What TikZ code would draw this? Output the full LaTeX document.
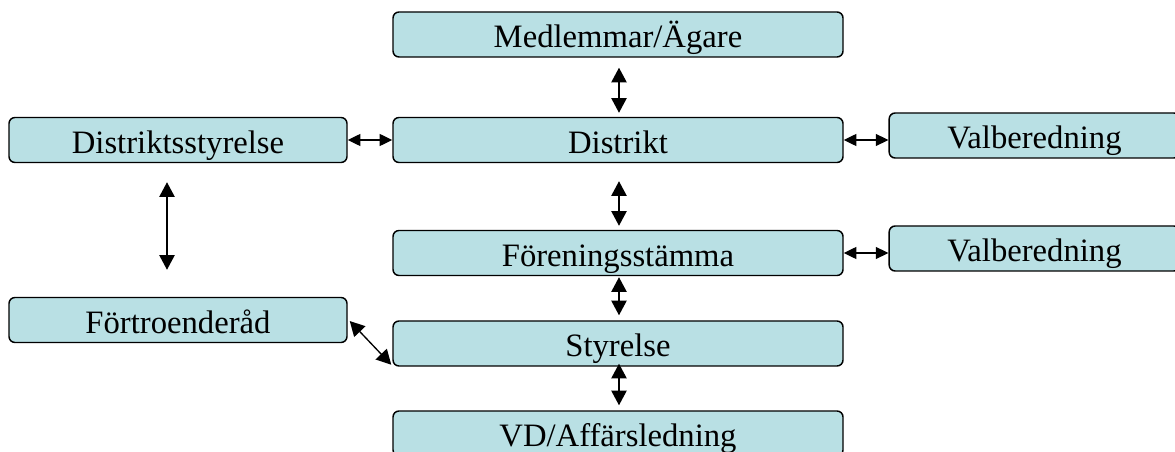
\documentclass[tikz,border=0pt]{standalone}
\usepackage{fontspec}
\setmainfont{Liberation Serif}
\usetikzlibrary{arrows.meta,calc}
\definecolor{boxfill}{RGB}{185,224,228}

\begin{document}
\begin{tikzpicture}[
  x=0.75pt, y=-0.75pt,
  font=\fontsize{24.5}{28}\selectfont,
  every node/.style={inner sep=0pt},
  box/.style={
    draw=black, fill=boxfill, rounded corners=4.5pt,
    minimum width=337.5pt, minimum height=33.75pt,
    text height=20pt, text depth=0pt,
    align=center, line width=1.1pt,
  },
  sidebox/.style={box, minimum width=253.5pt},
  valbox/.style={box, minimum width=218pt},
  dbl/.style={{Triangle[length=11pt, width=11.5pt]}-{Triangle[length=11pt, width=11.5pt]},
    line width=1pt, draw=black},
  sdbl/.style={{Triangle[length=9.5pt, width=9pt]}-{Triangle[length=9.5pt, width=9pt]},
    line width=1pt, draw=black},
]
\useasboundingbox (0,0) rectangle (1175,452);
\clip (0,0) rectangle (1175,452);

% ===== CENTRE COLUMN =====
\node[box] (medl)   at (618, 34.5)  {Medlemmar/Ägare};
\node[box] (distr)  at (618, 140)   {Distrikt};
\node[box] (foren)  at (618, 253)   {Föreningsstämma};
\node[box] (styr)   at (618, 343.5) {Styrelse};
\node[box] (vd)     at (618, 433.5) {VD/Affärsledning};

% ===== LEFT COLUMN =====
\node[sidebox] (dstyr) at (178, 140) {Distriktsstyrelse};
\node[sidebox] (fortr) at (178, 320) {Förtroenderåd};

% ===== RIGHT COLUMN =====
\node[valbox] (valb1) at (1034.5, 135.5) {Valberedning};
\node[valbox] (valb2) at (1034.5, 248.5) {Valberedning};

% ===== ARROWS: centre column =====
\draw[dbl] ($(medl.south)+(1,10)$) -- ($(distr.north)+(1,-4)$);
\draw[dbl] ($(distr.south)+(1,18)$) -- ($(foren.north)+(1,-4)$);
\draw[dbl] ($(foren.south)+(1,1)$) -- ($(styr.north)+(1,-5)$);
\draw[dbl] ($(styr.south)+(1,-3)$) -- ($(vd.north)+(1,-5)$);

% ===== ARROWS: sideways =====
\draw[sdbl] (dstyr.east) -- (distr.west);
\draw[sdbl] (distr.east) -- (distr.east -| valb1.west);
\draw[sdbl] (foren.east) -- (foren.east -| valb2.west);
\draw[dbl] ($(dstyr.south)+(-11,19)$) -- ($(fortr.north)+(-11,-27)$);
\draw[dbl] ($(fortr.east)+(2,1)$) -- ($(styr.south west)+(-1,-2)$);

\end{tikzpicture}
\end{document}
